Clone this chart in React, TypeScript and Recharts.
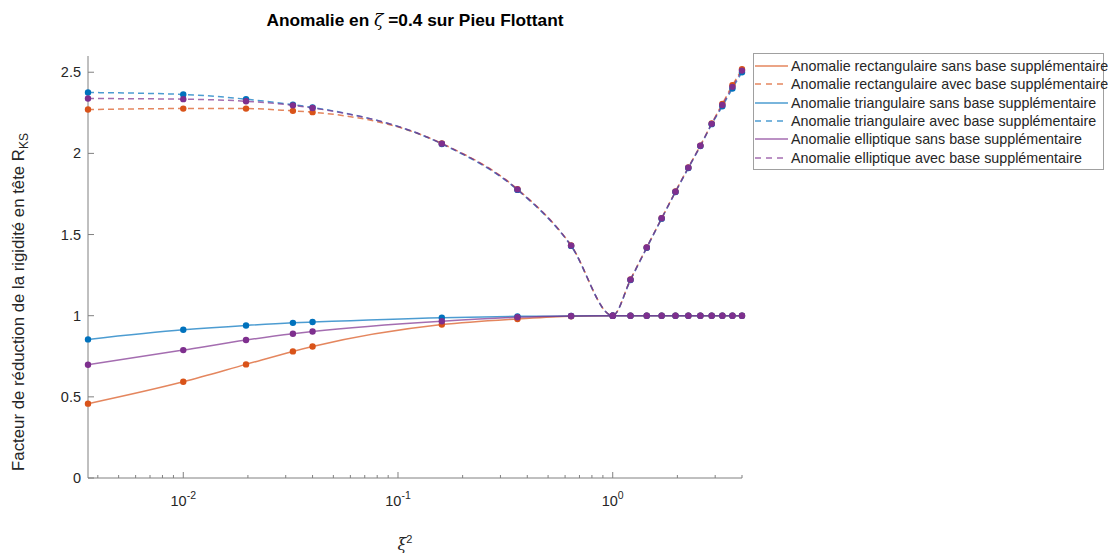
import { LineChart, Line, XAxis, YAxis, Legend } from 'recharts';

const xi2 = [0.0036, 0.01, 0.0196, 0.0324, 0.04, 0.16, 0.36, 0.64, 1, 1.21, 1.44, 1.69, 1.96, 2.25, 2.56, 2.89, 3.24, 3.61, 4];

const rectSans = [0.458, 0.593, 0.7, 0.78, 0.81, 0.945, 0.98, 0.997, 1, 1, 1, 1, 1, 1, 1, 1, 1, 1, 1];
const rectAvec = [2.27, 2.276, 2.276, 2.262, 2.254, 2.061, 1.78, 1.433, 1.0, 1.223, 1.42, 1.6, 1.765, 1.913, 2.048, 2.184, 2.305, 2.42, 2.518];
const triSans = [0.854, 0.913, 0.94, 0.956, 0.961, 0.988, 0.996, 0.998, 1, 1, 1, 1, 1, 1, 1, 1, 1, 1, 1];
const triAvec = [2.375, 2.363, 2.334, 2.3, 2.283, 2.058, 1.775, 1.43, 1.0, 1.22, 1.418, 1.598, 1.762, 1.91, 2.045, 2.18, 2.29, 2.4, 2.5];
const ellSans = [0.698, 0.788, 0.85, 0.889, 0.903, 0.966, 0.99, 0.998, 1, 1, 1, 1, 1, 1, 1, 1, 1, 1, 1];
const ellAvec = [2.338, 2.334, 2.321, 2.296, 2.28, 2.06, 1.778, 1.432, 1.0, 1.222, 1.42, 1.6, 1.764, 1.912, 2.047, 2.182, 2.298, 2.41, 2.51];

const xMajorTicks = [0.01, 0.1, 1];
const xMinorTicks = [0.004, 0.005, 0.006, 0.007, 0.008, 0.009, 0.02, 0.03, 0.04, 0.05, 0.06, 0.07, 0.08, 0.09, 0.2, 0.3, 0.4, 0.5, 0.6, 0.7, 0.8, 0.9, 2, 3, 4];
const xTickLabels = ['-2', '-1', '0'];
const yTicks = [0, 0.5, 1, 1.5, 2, 2.5];

const series = [
  { key: 'rectSans', name: 'Anomalie rectangulaire sans base supplémentaire', values: rectSans, color: '#D95319', dashed: false },
  { key: 'rectAvec', name: 'Anomalie rectangulaire avec base supplémentaire', values: rectAvec, color: '#D95319', dashed: true },
  { key: 'triSans', name: 'Anomalie triangulaire sans base supplémentaire', values: triSans, color: '#0072BD', dashed: false },
  { key: 'triAvec', name: 'Anomalie triangulaire avec base supplémentaire', values: triAvec, color: '#0072BD', dashed: true },
  { key: 'ellSans', name: 'Anomalie elliptique sans base supplémentaire', values: ellSans, color: '#7E2F8E', dashed: false },
  { key: 'ellAvec', name: 'Anomalie elliptique avec base supplémentaire', values: ellAvec, color: '#7E2F8E', dashed: true },
];

const data = xi2.map((x, i) => {
  const row: Record<string, number> = { x };
  series.forEach((s) => (row[s.key] = s.values[i]));
  return row;
});

const FONT = '"Liberation Sans", Arial, sans-serif';
const AXIS = '#808080';
const TEXT = '#262626';

const XTick = (props: any) => {
  const { x, y, payload } = props;
  const idx = xMajorTicks.indexOf(payload.value);
  const major = idx >= 0;
  return (
    <g>
      <line x1={x} y1={y} x2={x} y2={y - (major ? 6 : 3)} stroke={AXIS} />
      {major && (
        <text x={x} y={y + 28} textAnchor="middle" fill={TEXT} fontSize={14.5} fontFamily={FONT}>
          <tspan>10</tspan>
          <tspan dy={-7} fontSize={10.5}>{xTickLabels[idx]}</tspan>
        </text>
      )}
    </g>
  );
};

const YTick = (props: any) => {
  const { x, y, payload } = props;
  return (
    <g>
      <line x1={x} y1={y} x2={x + 6} y2={y} stroke={AXIS} />
      <text x={x - 7} y={y + 5} textAnchor="end" fill={TEXT} fontSize={14.5} fontFamily={FONT}>
        {payload.value}
      </text>
    </g>
  );
};

const renderLegend = () => (
  <div
    style={{
      border: '1px solid #a0a0a0',
      background: '#fff',
      padding: '3px 0 2px 0',
      fontFamily: FONT,
      fontSize: 14.3,
      color: TEXT,
      boxSizing: 'border-box',
    }}
  >
    {series.map((s) => (
      <div key={s.key} style={{ display: 'flex', alignItems: 'center', height: 18.3, whiteSpace: 'nowrap' }}>
        <svg width={37} height={10} style={{ flex: 'none' }}>
          <line
            x1={1}
            y1={5}
            x2={34}
            y2={5}
            stroke={s.color}
            strokeOpacity={0.7}
            strokeWidth={1.5}
            strokeDasharray={s.dashed ? '6 5' : undefined}
          />
        </svg>
        <span>{s.name}</span>
      </div>
    ))}
  </div>
);

export default function App() {
  return (
    <div style={{ position: 'absolute', left: 0, top: 0, width: 1108, height: 553, background: '#fff' }}>
      <LineChart width={1108} height={553} data={data} margin={{ top: 56, right: 366, bottom: 0, left: 0 }}>
        <XAxis
          dataKey="x"
          type="number"
          scale="log"
          domain={[0.0036, 4]}
          ticks={[...xMinorTicks, ...xMajorTicks].sort((a, b) => a - b)}
          tick={<XTick />}
          tickLine={false}
          tickSize={0}
          tickMargin={0}
          axisLine={{ stroke: AXIS }}
          height={75}
          interval={0}
        />
        <YAxis
          type="number"
          domain={[0, 2.6]}
          ticks={yTicks}
          tick={<YTick />}
          tickLine={false}
          tickSize={0}
          tickMargin={0}
          axisLine={{ stroke: AXIS }}
          width={88}
          interval={0}
        />
        <Legend
          content={renderLegend}
          layout="vertical"
          align="center"
          verticalAlign="middle"
          wrapperStyle={{ left: 753, top: 53, width: 351 }}
        />
        {series.map((s) => (
          <Line
            key={s.key}
            dataKey={s.key}
            name={s.name}
            type="monotone"
            stroke={s.color}
            strokeOpacity={0.7}
            strokeWidth={1.5}
            strokeDasharray={s.dashed ? '6 4' : undefined}
            dot={{ r: 3.2, fill: s.color, stroke: 'none', strokeDasharray: undefined }}
            activeDot={false}
            isAnimationActive={false}
          />
        ))}
      </LineChart>
      <svg
        width={1108}
        height={553}
        style={{ position: 'absolute', left: 0, top: 0, pointerEvents: 'none' }}
        fontFamily={FONT}
      >
        <text x={415} y={26} textAnchor="middle" fontSize={17.3} fontWeight="bold" fill="#000">
          Anomalie en <tspan fontStyle="italic" fontWeight="normal" fontFamily="'DejaVu Serif', serif">ζ</tspan> =0.4 sur Pieu Flottant
        </text>
        <text
          transform="translate(24, 302) rotate(-90)"
          textAnchor="middle"
          fontSize={16.8}
          fill={TEXT}
        >
          Facteur de réduction de la rigidité en tête R<tspan dy={4} fontSize={12}>KS</tspan>
        </text>
        <text x={405} y={550} textAnchor="middle" fontSize={16} fill={TEXT}>
          <tspan fontStyle="italic" fontFamily="'DejaVu Serif', serif">ξ</tspan>
          <tspan fontSize={11} dy={-7}>2</tspan>
        </text>
      </svg>
    </div>
  );
}
